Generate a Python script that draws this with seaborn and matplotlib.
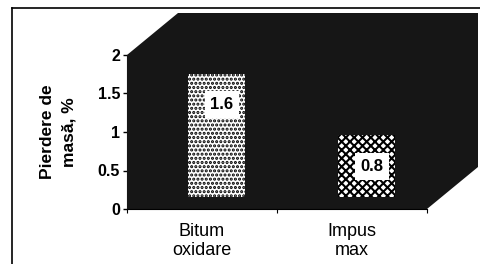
import matplotlib
matplotlib.use("Agg")
import matplotlib.pyplot as plt
import seaborn as sns
from matplotlib.patches import Polygon
from matplotlib.lines import Line2D
from matplotlib.transforms import ScaledTranslation

# date
categorii = ["Bitum\noxidare", "Impus\nmax"]
pierdere = [1.6, 0.8]
etichete = ["1.6", "0.8"]
hasuri = ["....", "xxxx"]
yticks = [0, 0.5, 1, 1.5, 2]
ytick_labels = ["0", "0.5", "1", "1.5", "2"]

plt.rcParams['font.family'] = ['Liberation Sans', 'DejaVu Sans']
plt.rcParams['hatch.linewidth'] = 1.5

fig = plt.figure(figsize=(4.81, 2.64), dpi=100)
ax = fig.add_axes([127 / 481, 55 / 264, 300 / 481, 154 / 264])
ax.set_facecolor("none")

# peretii negri ai graficului 3D (decor)
dx, dy = 51 / 300, 42 / 154
perete = Polygon([(0, 0), (0, 1), (dx, 1 + dy), (1 + dx, 1 + dy), (1 + dx, dy), (1, 0)],
                 closed=True, transform=ax.transAxes, facecolor="#161616",
                 edgecolor="none", clip_on=False, zorder=0)
ax.add_patch(perete)

sns.barplot(x=categorii, y=pierdere, ax=ax, width=0.38, color="white",
            saturation=1, edgecolor="black", linewidth=0, zorder=2)

# coloanele stau putin in adancime
adancime = ScaledTranslation(14 / 100, 12 / 100, fig.dpi_scale_trans)
for bara, h in zip(ax.containers[0], hasuri):
    bara.set_hatch(h)
    bara.set_transform(ax.transData + adancime)
    bara.set_clip_on(False)

eticheta_off = ScaledTranslation(20 / 100, -19 / 100, fig.dpi_scale_trans)
for i, (v, t) in enumerate(zip(pierdere, etichete)):
    ax.text(i, v, t, transform=ax.transData + eticheta_off, ha="center", va="center",
            fontsize=12, fontweight="bold", zorder=5,
            bbox=dict(boxstyle="square,pad=0.35", facecolor="white", edgecolor="none"))

ax.set_ylim(0, 2)
ax.set_yticks(yticks)
ax.set_yticklabels(ytick_labels, fontweight="bold")
ax.tick_params(axis="y", length=3, width=1, direction="out", labelsize=11.5, pad=2)
ax.set_xticks([-0.5, 0.5, 1.5], minor=True)
ax.tick_params(axis="x", which="major", length=0, labelsize=13, pad=10)
ax.tick_params(axis="x", which="minor", length=3, width=0.8)
for lab in ax.get_xticklabels():
    lab.set_linespacing(1.15)

ax.set_ylabel("Pierdere de\nmasă, %", fontsize=12.5, fontweight="bold", linespacing=1.6)
ax.yaxis.set_label_coords(-0.167, 0.5)

for s in ["top", "right"]:
    ax.spines[s].set_visible(False)
ax.spines["left"].set_color("#161616")
ax.spines["bottom"].set_color("black")
ax.spines["bottom"].set_linewidth(0.8)

# chenarul exterior scanat
fig.add_artist(Line2D([12 / 481, 1], [1 - 8 / 264, 1 - 8 / 264], color="black", lw=1.2))
fig.add_artist(Line2D([12 / 481, 12 / 481], [0, 1 - 8 / 264], color="black", lw=1.2))

fig.savefig("out.png", dpi=100)
